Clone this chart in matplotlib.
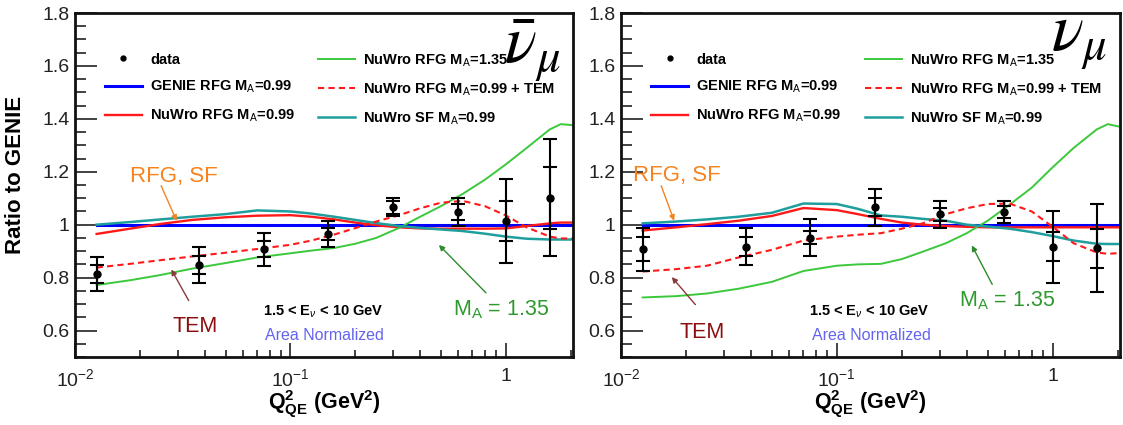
import matplotlib
matplotlib.use("Agg")
from matplotlib import pyplot as plt
from matplotlib.ticker import MultipleLocator, FuncFormatter, LogLocator, NullFormatter
from matplotlib.lines import Line2D
import numpy as np

plt.rcParams['font.family'] = ['Liberation Sans', 'DejaVu Sans']
plt.rcParams['mathtext.fontset'] = 'custom'
plt.rcParams['mathtext.rm'] = 'Liberation Sans'
plt.rcParams['mathtext.bf'] = 'Liberation Sans:bold'
plt.rcParams['mathtext.it'] = 'Liberation Sans:italic'

# ---- data ----
# Q2 grid on which the model curves were read
q2_curve = [0.0126, 0.018, 0.025, 0.035, 0.05, 0.07, 0.1, 0.125, 0.16, 0.2, 0.25,
            0.32, 0.4, 0.5, 0.63, 0.8, 1.0, 1.25, 1.6, 1.8, 2.05]
q2_genie = [0.0126, 2.05]
genie = [1.0, 1.0]

# anti-neutrino panel
nubar_rfg = [0.965, 0.985, 1.003, 1.018, 1.028, 1.034, 1.036, 1.03, 1.02, 1.008, 0.998,
             0.99, 0.986, 0.985, 0.985, 0.985, 0.986, 0.995, 1.005, 1.008, 1.008]
nubar_ma135 = [0.772, 0.79, 0.81, 0.834, 0.855, 0.876, 0.892, 0.902, 0.912, 0.928, 0.95,
               0.988, 1.03, 1.07, 1.116, 1.17, 1.228, 1.29, 1.36, 1.38, 1.376]
nubar_tem = [0.838, 0.852, 0.866, 0.88, 0.894, 0.908, 0.924, 0.94, 0.963, 0.987, 1.012,
             1.036, 1.062, 1.083, 1.09, 1.07, 1.035, 0.99, 0.955, 0.948, 0.948]
nubar_sf = [1.0, 1.01, 1.02, 1.03, 1.04, 1.054, 1.05, 1.042, 1.03, 1.018, 1.006,
            0.995, 0.988, 0.982, 0.976, 0.966, 0.955, 0.947, 0.944, 0.944, 0.944]

q2_data = [0.0126, 0.0378, 0.0753, 0.150, 0.300, 0.597, 1.0, 1.6]
nubar_data = [0.814, 0.848, 0.907, 0.965, 1.066, 1.049, 1.014, 1.102]
nubar_stat = [0.035, 0.035, 0.03, 0.022, 0.025, 0.03, 0.075, 0.117]
nubar_tot = [0.063, 0.067, 0.063, 0.05, 0.033, 0.053, 0.157, 0.22]

# neutrino panel
nu_rfg = [0.978, 0.99, 1.002, 1.015, 1.033, 1.063, 1.055, 1.04, 1.022, 1.008, 1.0,
          0.995, 0.992, 0.99, 0.99, 0.99, 0.99, 0.99, 0.99, 0.99, 0.99]
nu_ma135 = [0.725, 0.73, 0.74, 0.758, 0.784, 0.825, 0.845, 0.85, 0.852, 0.87, 0.898,
            0.93, 0.968, 1.015, 1.075, 1.14, 1.217, 1.29, 1.36, 1.38, 1.37]
nu_tem = [0.823, 0.832, 0.845, 0.876, 0.905, 0.94, 0.955, 0.962, 0.968, 0.985, 1.005,
          1.04, 1.062, 1.078, 1.08, 1.05, 0.992, 0.93, 0.895, 0.89, 0.893]
nu_sf = [1.005, 1.012, 1.02, 1.03, 1.045, 1.08, 1.078, 1.06, 1.035, 1.03, 1.022,
         1.015, 1.0, 0.993, 0.985, 0.972, 0.957, 0.94, 0.928, 0.927, 0.927]

nu_data = [0.907, 0.917, 0.951, 1.066, 1.039, 1.047, 0.917, 0.911]
nu_stat = [0.045, 0.035, 0.024, 0.035, 0.024, 0.023, 0.055, 0.073]
nu_tot = [0.082, 0.071, 0.069, 0.07, 0.05, 0.042, 0.136, 0.166]

labels = ['data', r'GENIE RFG M$_\mathrm{A}$=0.99', r'NuWro RFG M$_\mathrm{A}$=0.99',
          r'NuWro RFG M$_\mathrm{A}$=1.35', r'NuWro RFG M$_\mathrm{A}$=0.99 + TEM',
          r'NuWro SF M$_\mathrm{A}$=0.99']

c_blue, c_red, c_green, c_cyan = '#0000ff', '#ff1a1a', '#3cc83c', '#1f9e9e'
c_orange, c_tem, c_ma = '#f7821e', '#8b0f0f', '#2e9a2e'

fig = plt.figure(figsize=(11.23, 4.25), dpi=100)
axL = fig.add_axes([0.0668, 0.16, 0.4434, 0.8094])
axR = fig.add_axes([0.553, 0.16, 0.4443, 0.8094])

xlabels = {0.01: r'$10^{-2}$', 0.1: r'$10^{-1}$', 1.0: '1'}


def draw_panel(ax, rfg, ma135, tem, sf, data, stat, tot, symbol, sym_pos, ann):
    ax.plot(q2_genie, genie, color=c_blue, lw=2.2)
    ax.plot(q2_curve, rfg, color=c_red, lw=1.7)
    ax.plot(q2_curve, ma135, color=c_green, lw=1.4)
    ax.plot(q2_curve, sf, color=c_cyan, lw=1.8)
    ax.plot(q2_curve, tem, color=c_red, lw=1.5, ls=(0, (3, 2)))
    ax.errorbar(q2_data, data, yerr=tot, fmt='none', ecolor='k', elinewidth=1.5,
                capsize=5, capthick=1.5)
    ax.errorbar(q2_data, data, yerr=stat, fmt='o', color='k', ms=5, elinewidth=1.5,
                capsize=5, capthick=1.5)

    ax.set_xscale('log')
    ax.set_xlim(0.01, 2.05)
    ax.set_ylim(0.5, 1.8)
    ax.yaxis.set_major_locator(MultipleLocator(0.2))
    ax.yaxis.set_minor_locator(MultipleLocator(0.05))
    ax.yaxis.set_major_formatter(FuncFormatter(lambda v, p: f'{v:g}'))
    ax.xaxis.set_major_locator(LogLocator(base=10))
    ax.xaxis.set_minor_locator(LogLocator(base=10, subs=np.arange(2, 10)))
    ax.xaxis.set_major_formatter(FuncFormatter(lambda v, p: xlabels.get(round(v, 4), '')))
    ax.xaxis.set_minor_formatter(NullFormatter())
    ax.tick_params(which='both', direction='in', top=False, right=False, width=1.2,
                   labelsize=14, colors='#222222')
    ax.tick_params(axis='y', which='major', length=16, pad=4)
    ax.tick_params(axis='y', which='minor', length=8)
    ax.tick_params(axis='x', which='major', length=10, pad=8)
    ax.tick_params(axis='x', which='minor', length=5)
    for s in ax.spines.values():
        s.set_linewidth(2)
        s.set_color('#111111')

    ax.set_xlabel(r'$\mathbf{Q^{2}_{QE}}$ (GeV$^{\mathbf{2}}$)', fontsize=15.5, fontweight='bold')
    ax.xaxis.set_label_coords(0.5, -0.092)

    # legend in two columns
    h_data = Line2D([], [], marker='o', ms=3.5, color='k', ls='none')
    h_genie = Line2D([], [], color=c_blue, lw=2.2)
    h_rfg = Line2D([], [], color=c_red, lw=1.7)
    h_ma = Line2D([], [], color=c_green, lw=1.4)
    h_tem = Line2D([], [], color=c_red, lw=1.5, ls=(0, (3, 2)))
    h_sf = Line2D([], [], color=c_cyan, lw=1.8)
    kw = dict(loc='upper left', frameon=False, borderpad=0, borderaxespad=0,
              handlelength=2.55, handletextpad=0.55, labelspacing=0.85,
              prop={'weight': 'bold', 'size': 10.5})
    leg1 = ax.legend([h_data, h_genie, h_rfg], labels[:3], bbox_to_anchor=(0.06, 0.885), **kw)
    ax.add_artist(leg1)
    ax.legend([h_ma, h_tem, h_sf], labels[3:], bbox_to_anchor=(0.488, 0.885), **kw)

    ax.text(sym_pos[0], sym_pos[1], symbol, transform=ax.transAxes, fontsize=48,
            math_fontfamily='stix', ha='left', va='baseline')

    # annotations
    rfg_txt, rfg_tail, rfg_tip, tem_txt, tem_tail, tem_tip, ma_txt, ma_tail, ma_tip = ann
    ax.text(*rfg_txt, 'RFG, SF', color=c_orange, fontsize=16, ha='center', va='baseline')
    ax.annotate('', xy=rfg_tip, xytext=rfg_tail,
                arrowprops=dict(arrowstyle='-|>', color=c_orange, lw=1, mutation_scale=8))
    ax.text(*tem_txt, 'TEM', color=c_tem, fontsize=15.5, ha='center', va='baseline')
    ax.annotate('', xy=tem_tip, xytext=tem_tail,
                arrowprops=dict(arrowstyle='-|>', color='#8b3a3a', lw=1, mutation_scale=8))
    ax.text(*ma_txt, r'M$_\mathrm{A}$ = 1.35', color=c_ma, fontsize=15.5, ha='center',
            va='baseline')
    ax.annotate('', xy=ma_tip, xytext=ma_tail,
                arrowprops=dict(arrowstyle='-|>', color='#2e8b2e', lw=1, mutation_scale=8))

    ax.text(0.1416, 0.657, r'1.5 < E$_\nu$ < 10 GeV', fontsize=10.5, fontweight='bold',
            ha='center', va='baseline')
    ax.text(0.1445, 0.565, 'Area Normalized', color='#6464f0', fontsize=11.5,
            ha='center', va='baseline')


draw_panel(axL, nubar_rfg, nubar_ma135, nubar_tem, nubar_sf, nubar_data, nubar_stat,
           nubar_tot, r'$\bar{\nu}_{\mu}$', (0.862, 0.855),
           [(0.0288, 1.161), (0.0248, 1.157), (0.030, 1.005),
            (0.0362, 0.596), (0.0342, 0.704), (0.0276, 0.84),
            (0.953, 0.659), (0.826, 0.735), (0.479, 0.931)])
draw_panel(axR, nu_rfg, nu_ma135, nu_tem, nu_sf, nu_data, nu_stat, nu_tot,
           r'$\nu_{\mu}$', (0.862, 0.89),
           [(0.0181, 1.165), (0.0152, 1.157), (0.0178, 1.005),
            (0.02366, 0.572), (0.02254, 0.69), (0.01686, 0.81),
            (0.615, 0.691), (0.532, 0.765), (0.4163, 0.931)])

axL.set_ylabel('Ratio to GENIE', fontsize=16, fontweight='bold')
axL.yaxis.set_label_coords(-0.098, 0.53)

fig.savefig('out.png', dpi=100)
